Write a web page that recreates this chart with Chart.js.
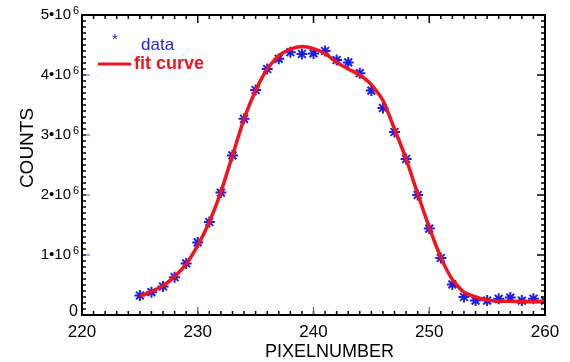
<!DOCTYPE html>
<html>
<head>
<meta charset="utf-8">
<script src="https://cdn.jsdelivr.net/npm/chart.js@4"></script>
<style>
  html, body { margin: 0; padding: 0; background: #fff; }
  #wrap { width: 570px; height: 362px; }
</style>
</head>
<body>
<div id="wrap"><canvas id="plot_counts"></canvas></div>
<script>
// pixel numbers (x) and measured counts, plus fitted curve
const pixelNumber = [225, 226, 227, 228, 229, 230, 231, 232, 233, 234, 235, 236,
    237, 238, 239, 240, 241, 242, 243, 244, 245, 246, 247, 248, 249, 250, 251,
    252, 253, 254, 255, 256, 257, 258, 259, 260];
const countsData = [0.325, 0.38, 0.475, 0.63, 0.86, 1.21, 1.55, 2.04, 2.66, 3.27,
    3.75, 4.10, 4.27, 4.38, 4.35, 4.36, 4.40, 4.25, 4.21, 4.03, 3.74, 3.45, 3.05,
    2.60, 2.00, 1.44, 0.95, 0.51, 0.30, 0.24, 0.24, 0.27, 0.29, 0.24, 0.27, 0.24];
const fitCurve = [0.31, 0.39, 0.49, 0.64, 0.85, 1.16, 1.55, 2.05, 2.66, 3.27,
    3.74, 4.10, 4.32, 4.43, 4.475, 4.44, 4.36, 4.21, 4.10, 4.00, 3.84, 3.575, 3.10,
    2.60, 2.02, 1.46, 0.96, 0.59, 0.38, 0.30, 0.25, 0.23, 0.23, 0.22, 0.22, 0.22];
const scaleFactor = 1e6;

const xMajorTicks = [220, 230, 240, 250, 260];
const yMajorTicks = [0, 1, 2, 3, 4, 5];

const blue = 'rgb(30, 30, 230)';
const red = 'rgb(240, 20, 30)';

function createData(xValues, yValues) {
    return xValues.map((x, i) => ({ x: x, y: yValues[i] * scaleFactor }));
}

// frame, inward ticks, labels and legend in the old IDL look
const idlAxes = {
    id: 'idlAxes',
    afterDraw(chart) {
        const c = chart.ctx;
        const a = chart.chartArea;
        const xs = chart.scales.x;
        const ys = chart.scales.y;
        c.save();

        // minor ticks
        c.strokeStyle = '#000';
        c.lineWidth = 1.5;
        c.beginPath();
        for (let v = 220; v <= 260; v++) {
            const px = xs.getPixelForValue(v);
            const len = (v % 10 === 0) ? 8 : 4;
            c.moveTo(px, a.bottom); c.lineTo(px, a.bottom - 4);
            c.moveTo(px, a.top); c.lineTo(px, a.top + len);
        }
        for (let k = 0; k <= 50; k++) {
            const py = ys.getPixelForValue(k * 1e5);
            const len = (k % 10 === 0) ? 8 : 4;
            c.moveTo(a.left, py); c.lineTo(a.left + 4, py);
            c.moveTo(a.right, py); c.lineTo(a.right - len, py);
        }
        c.stroke();

        // major ticks in blue on bottom and left
        c.strokeStyle = 'rgb(90, 90, 230)';
        c.lineWidth = 1.2;
        c.beginPath();
        xMajorTicks.forEach(v => {
            const px = xs.getPixelForValue(v);
            c.moveTo(px, a.bottom); c.lineTo(px, a.bottom - 8);
        });
        yMajorTicks.forEach(v => {
            const py = ys.getPixelForValue(v * scaleFactor);
            c.moveTo(a.left, py); c.lineTo(a.left + 8, py);
        });
        c.stroke();

        // frame
        c.strokeStyle = '#000';
        c.lineWidth = 2;
        c.strokeRect(a.left, a.top, a.right - a.left, a.bottom - a.top);

        // x tick labels
        c.fillStyle = '#000';
        c.font = '17px "Liberation Sans", Arial, sans-serif';
        c.textAlign = 'center';
        c.textBaseline = 'alphabetic';
        xMajorTicks.forEach(v => {
            c.fillText(String(v), xs.getPixelForValue(v), 337);
        });

        // y tick labels with superscript
        yMajorTicks.forEach(v => {
            const py = ys.getPixelForValue(v * scaleFactor);
            c.textAlign = 'right';
            if (v === 0) {
                c.font = '16px "Liberation Sans", Arial, sans-serif';
                c.fillText('0', 78, py + 1);
                return;
            }
            c.font = '11px "Liberation Sans", Arial, sans-serif';
            c.fillText('6', 79, py - 1);
            c.font = '15px "Liberation Sans", Arial, sans-serif';
            c.fillText(v + '\u202210', 71, py + 4);
        });

        // axis titles
        c.font = '18px "Liberation Sans", Arial, sans-serif';
        c.textAlign = 'center';
        c.fillText('PIXELNUMBER', (a.left + a.right) / 2 + 16, 357);
        c.save();
        c.translate(33, 148);
        c.rotate(-Math.PI / 2);
        c.font = '19px "Liberation Sans", Arial, sans-serif';
        c.fillText('COUNTS', 0, 0);
        c.restore();

        // legend
        c.textAlign = 'left';
        c.fillStyle = blue;
        c.font = '15px "Liberation Sans", Arial, sans-serif';
        c.fillText('*', 112, 44);
        c.font = '17px "Liberation Sans", Arial, sans-serif';
        c.fillText('data', 141, 50);
        c.strokeStyle = red;
        c.lineWidth = 3;
        c.beginPath();
        c.moveTo(98, 64); c.lineTo(131, 64);
        c.stroke();
        c.fillStyle = red;
        c.font = 'bold 18px "Liberation Sans", Arial, sans-serif';
        c.fillText('fit curve', 134, 69);

        c.restore();
    }
};

const ctx = document.getElementById('plot_counts').getContext('2d');

const plot_counts = new Chart(ctx, {
    type: 'line',
    data: {
        datasets: [
            {
                label: 'fit curve',
                data: createData(pixelNumber, fitCurve),
                borderColor: red,
                borderWidth: 3.5,
                pointRadius: 0,
                tension: 0.2,
                fill: false,
            }, {
                label: 'data',
                data: createData(pixelNumber, countsData),
                showLine: false,
                pointStyle: 'star',
                pointRadius: 5.5,
                borderColor: blue,
                backgroundColor: blue,
                pointBorderWidth: 2,
            },
        ],
    },
    options: {
        responsive: true,
        maintainAspectRatio: false,
        animation: false,
        layout: {
            padding: { left: 82, right: 25, top: 15, bottom: 47 }
        },
        scales: {
            x: { type: 'linear', min: 220, max: 260, display: false },
            y: { min: 0, max: 5e6, display: false }
        },
        plugins: {
            legend: { display: false },
            tooltip: { enabled: false }
        }
    },
    plugins: [idlAxes]
});
</script>
</body>
</html>
